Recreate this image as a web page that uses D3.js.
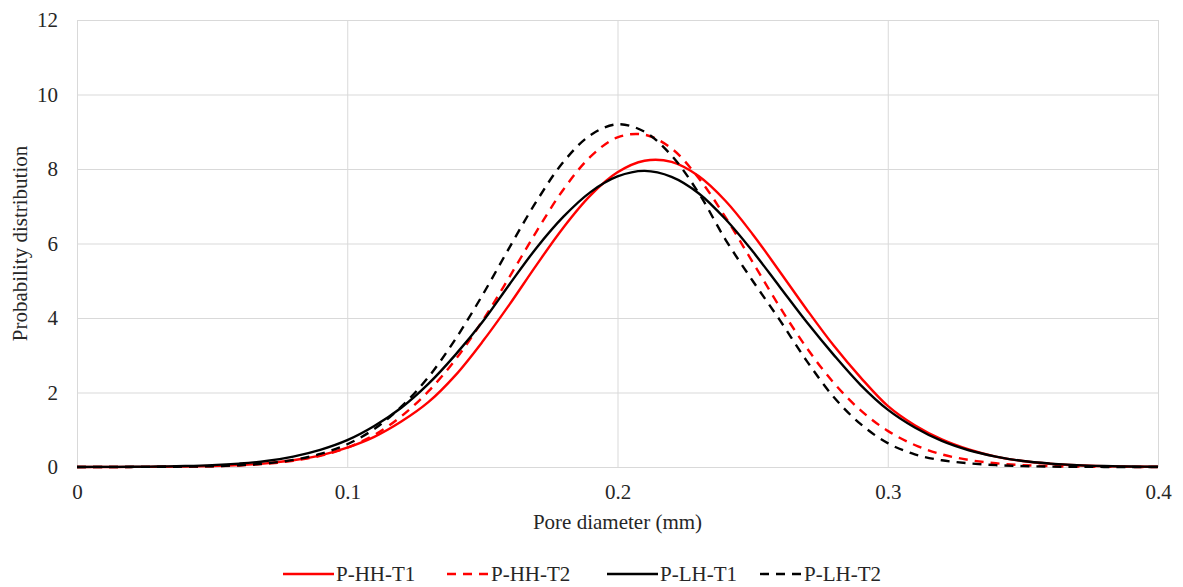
<!DOCTYPE html>
<html>
<head>
<meta charset="utf-8">
<script src="https://cdn.jsdelivr.net/npm/d3@7"></script>
<style>
  html, body { margin: 0; padding: 0; background: #fff; }
  .grid line { stroke: #d9d9d9; stroke-width: 1; }
  .grid .domain { display: none; }
</style>
</head>
<body>
<div id="chart"></div>
<script>
  // pore diameter (mm)
  var diameters = [0.00, 0.01, 0.02, 0.03, 0.04, 0.05, 0.06, 0.07, 0.08, 0.09,
    0.10, 0.11, 0.12, 0.13, 0.14, 0.15, 0.16, 0.17, 0.18, 0.19,
    0.20, 0.21, 0.22, 0.23, 0.24, 0.25, 0.26, 0.27, 0.28, 0.29,
    0.30, 0.31, 0.32, 0.33, 0.34, 0.35, 0.36, 0.37, 0.38, 0.39, 0.40];

  var hhT1 = [0.000, 0.001, 0.003, 0.006, 0.013, 0.027, 0.052, 0.098, 0.18, 0.31,
    0.52, 0.81, 1.22, 1.74, 2.46, 3.36, 4.36, 5.42, 6.43, 7.29,
    7.91, 8.22, 8.19, 7.81, 7.14, 6.25, 5.25, 4.23, 3.26, 2.40,
    1.64, 1.12, 0.74, 0.47, 0.28, 0.16, 0.087, 0.046, 0.023, 0.011, 0.005];

  var hhT2 = [0.000, 0.001, 0.002, 0.004, 0.009, 0.020, 0.042, 0.086, 0.166, 0.30,
    0.52, 0.86, 1.36, 2.03, 2.88, 3.92, 5.10, 6.32, 7.45, 8.33,
    8.85, 8.92, 8.55, 7.76, 6.70, 5.50, 4.30, 3.20, 2.26, 1.52,
    0.97, 0.59, 0.34, 0.19, 0.099, 0.049, 0.023, 0.010, 0.004, 0.002, 0.001];

  var lhT1 = [0.001, 0.003, 0.006, 0.013, 0.026, 0.049, 0.092, 0.16, 0.28, 0.46,
    0.72, 1.10, 1.59, 2.23, 3.01, 3.89, 4.90, 5.88, 6.72, 7.38,
    7.80, 7.95, 7.79, 7.35, 6.65, 5.79, 4.84, 3.89, 3.01, 2.20,
    1.54, 1.06, 0.70, 0.45, 0.28, 0.16, 0.092, 0.049, 0.026, 0.013, 0.006];

  var lhT2 = [0.000, 0.001, 0.002, 0.004, 0.010, 0.022, 0.047, 0.097, 0.19, 0.35,
    0.61, 1.02, 1.62, 2.41, 3.43, 4.61, 5.89, 7.13, 8.19, 8.91,
    9.20, 9.00, 8.36, 7.36, 6.10, 5.00, 3.95, 2.85, 1.88, 1.15,
    0.64, 0.34, 0.18, 0.10, 0.050, 0.024, 0.011, 0.005, 0.002, 0.001, 0.000];

  var xTicks = [0, 0.1, 0.2, 0.3, 0.4];
  var yTicks = [0, 2, 4, 6, 8, 10, 12];

  var seriesNames = ['P-HH-T1', 'P-HH-T2', 'P-LH-T1', 'P-LH-T2'];
  var seriesValues = [hhT1, hhT2, lhT1, lhT2];
  var seriesColors = ['#ff0000', '#ff0000', '#000000', '#000000'];
  var seriesDashed = [false, true, false, true];

  var fontFamily = '"Liberation Serif"',
    fontSize = '21px',
    textColor = '#262626';

  var width = 1183,
    height = 587,
    margin = {top: 20, right: 25, bottom: 120, left: 77},
    plotW = width - margin.left - margin.right,
    plotH = height - margin.top - margin.bottom;

  var svg = d3.select('#chart')
    .append('svg')
    .attr('width', width)
    .attr('height', height);

  var g = svg.append('g')
    .attr('transform', 'translate(' + margin.left + ',' + margin.top + ')');

  var x = d3.scaleLinear().domain([0, 0.4]).range([0, plotW]);
  var y = d3.scaleLinear().domain([0, 12]).range([plotH, 0]);

  // gridlines
  g.append('g')
    .attr('class', 'grid')
    .call(d3.axisLeft(y).tickValues(yTicks).tickSize(-plotW).tickFormat(''));
  g.append('g')
    .attr('class', 'grid')
    .attr('transform', 'translate(0,' + plotH + ')')
    .call(d3.axisBottom(x).tickValues(xTicks).tickSize(-plotH).tickFormat(''));

  // tick labels
  var yAxis = g.append('g')
    .call(d3.axisLeft(y).tickValues(yTicks).tickSize(0).tickPadding(19).tickFormat(d3.format('d')));
  yAxis.select('.domain').remove();
  yAxis.selectAll('text')
    .style('font-family', fontFamily)
    .style('font-size', fontSize)
    .attr('fill', textColor);

  var xAxis = g.append('g')
    .attr('transform', 'translate(0,' + plotH + ')')
    .call(d3.axisBottom(x).tickValues(xTicks).tickSize(0).tickPadding(17).tickFormat(function(d) {
      return d === 0 ? '0' : d3.format('.1f')(d);
    }));
  xAxis.select('.domain').remove();
  xAxis.selectAll('text')
    .style('font-family', fontFamily)
    .style('font-size', fontSize)
    .attr('fill', textColor);

  // axis titles
  svg.append('text')
    .attr('x', margin.left + plotW / 2)
    .attr('y', 529)
    .attr('text-anchor', 'middle')
    .attr('fill', textColor)
    .style('font-family', fontFamily)
    .style('font-size', fontSize)
    .text('Pore diameter (mm)');

  svg.append('text')
    .attr('transform', 'translate(27,' + (margin.top + plotH / 2) + ') rotate(-90)')
    .attr('text-anchor', 'middle')
    .attr('fill', textColor)
    .style('font-family', fontFamily)
    .style('font-size', fontSize)
    .text('Probability distribution');

  // curves
  var line = d3.line()
    .x(function(d) { return x(d[0]); })
    .y(function(d) { return y(Math.max(0, d[1])); })
    .curve(d3.curveCatmullRom.alpha(0.5));

  seriesValues.forEach(function(vals, i) {
    var pts = diameters.map(function(d, j) { return [d, vals[j]]; });
    g.append('path')
      .datum(pts)
      .attr('fill', 'none')
      .attr('stroke', seriesColors[i])
      .attr('stroke-width', 2.4)
      .attr('stroke-dasharray', seriesDashed[i] ? '9,7' : null)
      .attr('d', line);
  });

  // legend
  var legendX = [283, 447, 607, 760];
  var legend = svg.append('g').attr('transform', 'translate(0,574)');
  seriesNames.forEach(function(name, i) {
    var item = legend.append('g').attr('transform', 'translate(' + legendX[i] + ',0)');
    var len = seriesDashed[i] ? 42 : 51;
    item.append('line')
      .attr('x1', 0).attr('x2', len)
      .attr('y1', 0).attr('y2', 0)
      .attr('stroke', seriesColors[i])
      .attr('stroke-width', 2.4)
      .attr('stroke-dasharray', seriesDashed[i] ? '9,7' : null);
    item.append('text')
      .attr('x', len + 2)
      .attr('y', 7)
      .attr('fill', textColor)
      .style('font-family', fontFamily)
      .style('font-size', fontSize)
      .text(name);
  });
</script>
</body>
</html>
